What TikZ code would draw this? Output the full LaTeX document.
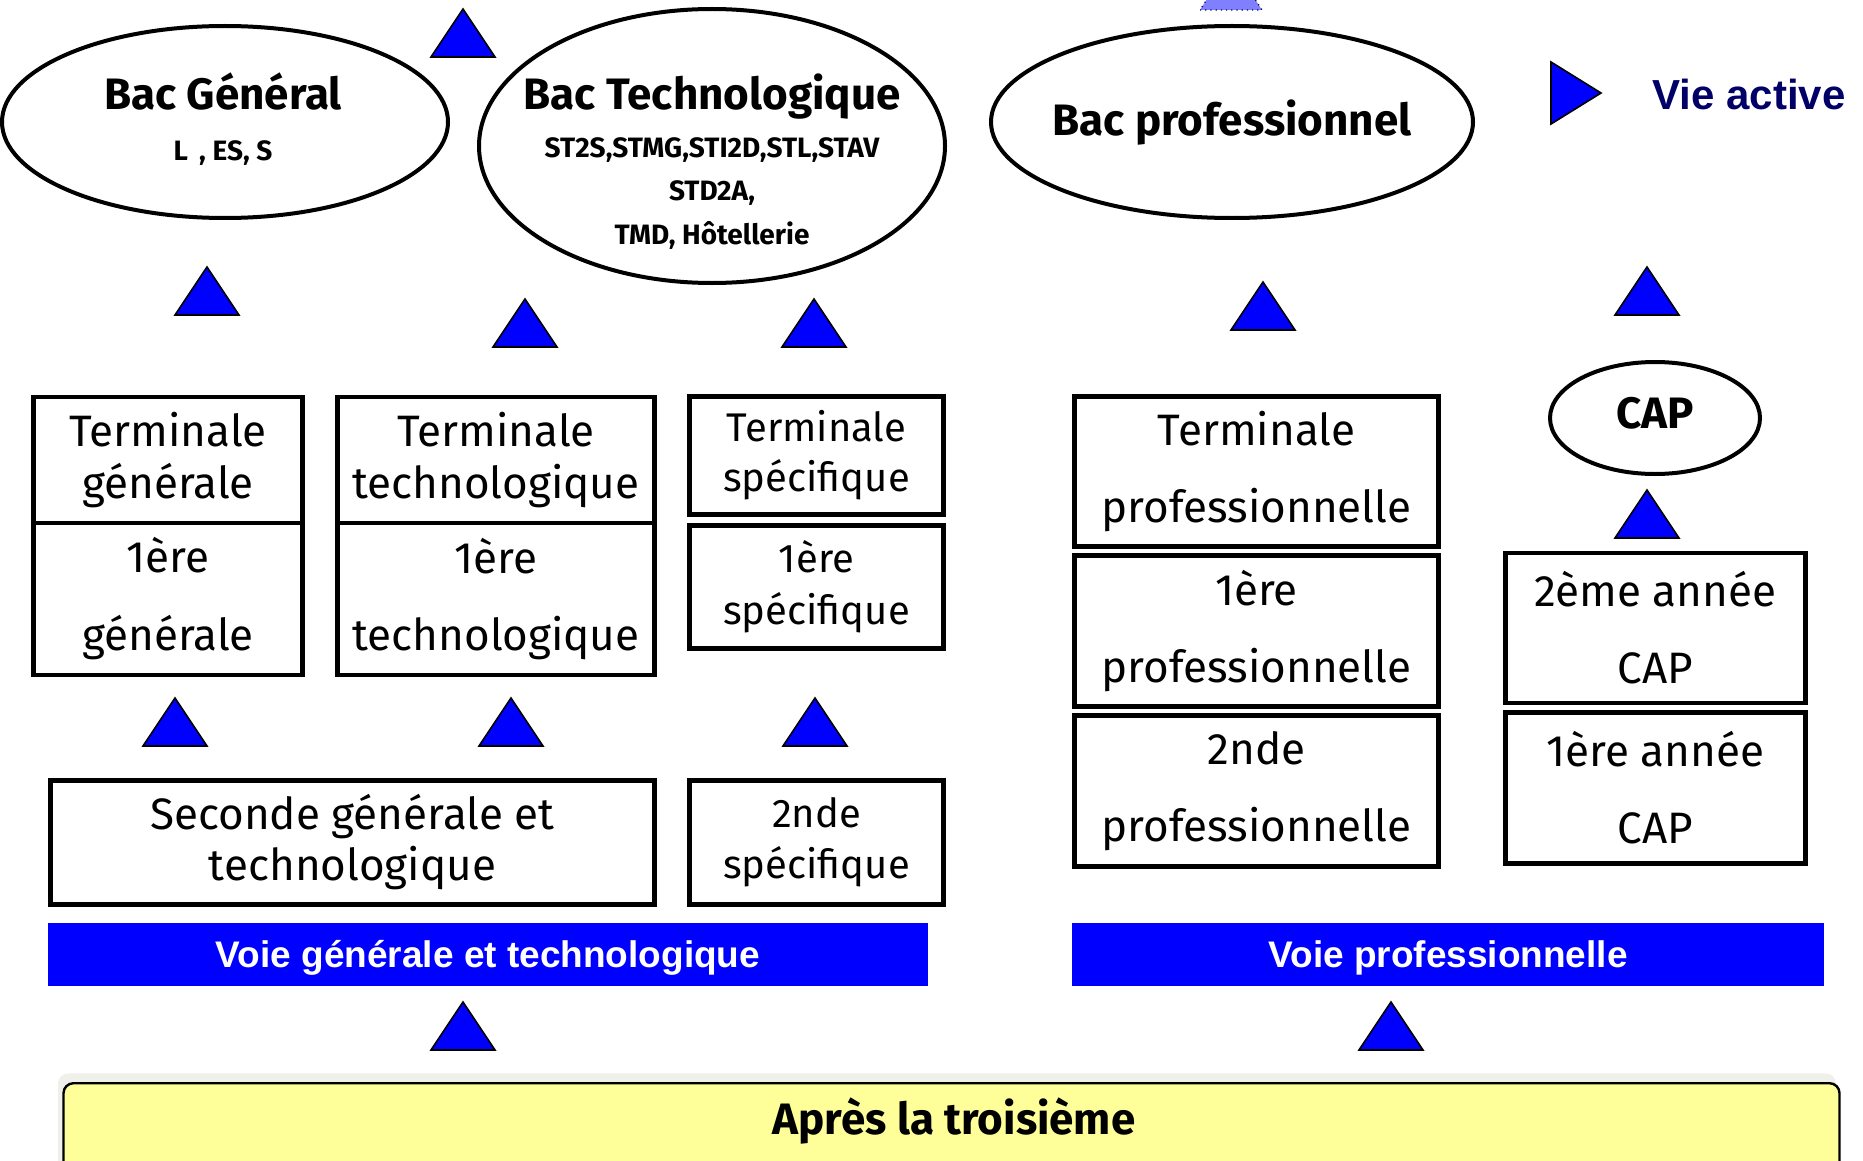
\documentclass[tikz,border=0pt]{standalone}
\usepackage{fontspec}
\setmainfont{Fira Sans}
\newfontfamily\arial{Liberation Sans}
\usepackage{tikz}
\usetikzlibrary{shapes,positioning}
\usepackage{xcolor}
\definecolor{bleu}{RGB}{0,0,255}
\definecolor{marine}{RGB}{0,0,102}
\definecolor{jaune}{RGB}{255,255,153}
\definecolor{ombre}{RGB}{240,240,235}
\definecolor{lavande}{RGB}{128,128,255}
\newcommand{\fnt}[2]{\fontsize{#1}{#2}\selectfont}

\begin{document}
\begin{tikzpicture}[x=0.5pt, y=-0.5pt]
      \tikzstyle{classe} = [rectangle, draw, line width=2.4pt, fill=white, align=center, inner sep=0pt]
      \tikzstyle{bac} = [ellipse, draw, line width=2pt, fill=white, inner sep=0pt]
      \tikzstyle{titre} = [font=\bfseries\fnt{22}{26}, text height=0.7em, text depth=0pt, inner sep=0pt]
      \tikzstyle{sous} = [font=\bfseries\fnt{14}{16}, text height=0.7em, text depth=0pt, inner sep=0pt]
      \tikzstyle{voie} = [rectangle, fill=bleu, text=white, font=\arial\bfseries\fnt{18.5}{22}, text height=13pt, text depth=0pt, inner sep=0pt]
      \tikzstyle{fleche} = [fill=bleu, draw=black, line width=0.8pt]

      \useasboundingbox (0,0) rectangle (1863,1161);
      \clip (0,0) rectangle (1863,1161);

      % les bacs
      \node[bac, minimum width=223pt, minimum height=96pt] (bgen) at (225,122) {};
      \node[titre] (bgen-t) at (223,103) {Bac Général};
      \node[sous] (bgen-s) at (223,154) {L\,\ ,\ ES,\ S};

      \node[bac, minimum width=233pt, minimum height=137pt] (btech) at (712,146) {};
      \node[titre] (btech-t) at (712,103) {Bac Technologique};
      \node[sous] (btech-s1) at (712,150) {ST2S,STMG,STI2D,STL,STAV};
      \node[sous] (btech-s2) at (712,193) {STD2A,};
      \node[sous] (btech-s3) at (712,237) {TMD, Hôtellerie};

      \node[bac, minimum width=241pt, minimum height=96pt] (bpro) at (1232,122) {};
      \node[titre] (bpro-t) at (1232,128) {Bac professionnel};

      \node[bac, minimum width=105pt, minimum height=56pt] (cap) at (1655,418) {};
      \node[titre] (cap-t) at (1655,421) {CAP};

      \draw[fill=lavande, draw=marine, dotted, line width=0.6pt] (1200,10) -- (1262,10) -- (1231,-38) -- cycle;

      % vie active
      \draw[fleche] (1551,62) -- (1601,93) -- (1551,124) -- cycle;
      \node[anchor=west, text=marine, font=\arial\bfseries\fnt{21}{24}, text height=0.7em, text depth=0pt, inner sep=0pt] (vie) at (1652,103) {Vie active};

      % voie generale et technologique
      \node[classe, minimum width=134.5pt, minimum height=63pt, font=\fnt{22}{26}] (tgen) at (168,460) {Terminale\\générale};
      \node[classe, minimum width=134.5pt, minimum height=76pt, font=\fnt{22}{39}] (pgen) at (168,599) {1ère\\ générale};
      \node[classe, minimum width=158.5pt, minimum height=63pt, font=\fnt{22}{26}] (ttech) at (496,460) {Terminale\\technologique};
      \node[classe, minimum width=158.5pt, minimum height=76pt, font=\fnt{22}{38.5}] (ptech) at (496,599) {1ère\\technologique};
      \node[classe, minimum width=127pt, minimum height=59pt, font=\fnt{20}{25}] (tspec) at (816.5,455.5) {Terminale\\spécifique};
      \node[classe, minimum width=127pt, minimum height=61.5pt, font=\fnt{20}{26}] (pspec) at (816.5,587) {1ère\\spécifique};
      \node[classe, minimum width=302pt, minimum height=62pt, font=\fnt{22}{25.5}] (sgt) at (352.5,842.5) {Seconde générale et\\technologique};
      \node[classe, minimum width=127pt, minimum height=62pt, font=\fnt{20}{25.5}] (sspec) at (816.5,842.5) {2nde\\spécifique};

      % voie professionnelle
      \node[classe, minimum width=182pt, minimum height=75pt, font=\fnt{22}{38.5}] (tpro) at (1256.5,471.5) {Terminale\\professionnelle};
      \node[classe, minimum width=182pt, minimum height=75.5pt, font=\fnt{22}{38.5}] (ppro) at (1256.5,631) {1ère\\professionnelle};
      \node[classe, minimum width=182pt, minimum height=75.5pt, font=\fnt{22}{38.5}] (spro) at (1256.5,791) {2nde\\professionnelle};
      \node[classe, minimum width=150pt, minimum height=75pt, font=\fnt{22}{38.5}] (cap2) at (1655.5,628) {2ème année\\CAP};
      \node[classe, minimum width=150pt, minimum height=75.5pt, font=\fnt{22}{38.5}] (cap1) at (1655.5,788) {1ère année\\CAP};

      \node[voie, minimum width=440pt, minimum height=31.5pt] (vgt) at (488,954.5) {Voie générale et technologique};
      \node[voie, minimum width=376pt, minimum height=31.5pt] (vpro) at (1448,954.5) {Voie professionnelle};

      % apres la troisieme
      \node[rectangle, rounded corners=5pt, fill=ombre, minimum width=889pt, minimum height=60pt, anchor=north] (ombre) at (947,1073) {};
      \node[rectangle, rounded corners=5pt, draw, line width=1.2pt, fill=jaune, minimum width=888pt, minimum height=60pt, anchor=north] (apres) at (951.5,1082) {};
      \node[titre] (apres-t) at (954,1127) {Après la troisième};

      % les fleches
      \foreach \x/\y in {463/57, 207/315, 525/347, 814/347, 1263/330, 1647/315, 1647/538,
                         175/746, 511/746, 815/746, 463/1050, 1391/1050}
        \draw[fleche] (\x-32,\y) -- (\x+32,\y) -- (\x,\y-48) -- cycle;
    \end{tikzpicture}
\end{document}
